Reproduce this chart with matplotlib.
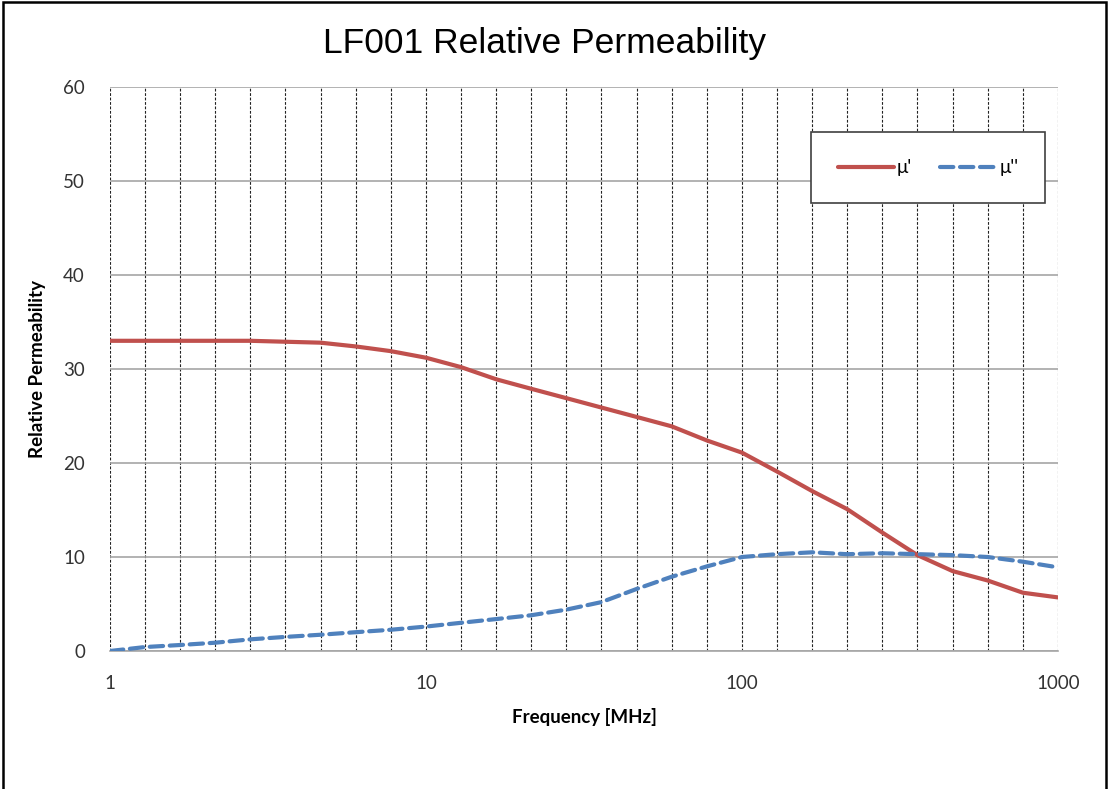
import matplotlib
matplotlib.use("Agg")
import matplotlib.pyplot as plt
from matplotlib.patches import Rectangle
from matplotlib.ticker import FixedLocator, NullFormatter

# frequencies of the data points / vertical grid (MHz)
freq = [1, 1.29, 1.67, 2.15, 2.78, 3.59, 4.64, 5.99, 7.74,
        10, 12.9, 16.7, 21.5, 27.8, 35.9, 46.4, 59.9, 77.4,
        100, 129, 167, 215, 278, 359, 464, 599, 774, 1000]

mu_real = [33.0, 33.0, 33.0, 33.0, 33.0, 32.9, 32.8, 32.4, 31.9,
           31.2, 30.2, 28.9, 27.9, 26.9, 25.9, 24.9, 23.9, 22.4,
           21.1, 19.1, 17.0, 15.1, 12.6, 10.2, 8.5, 7.5, 6.2, 5.7]

mu_imag = [0.0, 0.42, 0.64, 0.88, 1.24, 1.5, 1.73, 2.0, 2.26,
           2.6, 3.0, 3.4, 3.8, 4.4, 5.2, 6.6, 7.9, 9.0,
           10.0, 10.3, 10.5, 10.3, 10.4, 10.3, 10.2, 10.0, 9.5, 8.9]

x_ticks = [1, 10, 100, 1000]
x_ticklabels = ["1", "10", "100", "1000"]
y_ticks = [0, 10, 20, 30, 40, 50, 60]

red = "#C0504D"
blue = "#4F81BD"
tick_font = "Lato"

fig = plt.figure(figsize=(11.09, 7.89), dpi=100)
ax = fig.add_axes([110 / 1109, 1 - 651 / 789, 948 / 1109, 564 / 789])

# outer frame of the chart area (bottom edge runs off the image)
fig.patches.append(Rectangle((3 / 1109, -0.02), 1103 / 1109, 1.018,
                             transform=fig.transFigure, fill=False,
                             edgecolor="black", linewidth=1.8))

ax.plot(freq, mu_real, color=red, lw=3, solid_capstyle="round", label="\u03bc'", zorder=3)
ax.plot(freq, mu_imag, color=blue, lw=3, dashes=(3.2, 1.6), dash_capstyle="round",
        label="\u03bc''", zorder=3)

ax.set_xscale("log")
ax.set_xlim(1, 1000)
ax.set_ylim(0, 60)
ax.set_xticks(x_ticks)
ax.set_xticklabels(x_ticklabels)
ax.xaxis.set_minor_locator(FixedLocator(freq))
ax.xaxis.set_minor_formatter(NullFormatter())
ax.set_yticks(y_ticks)

ax.grid(axis="y", which="major", color="#A6A6A6", lw=1.2, zorder=1)
ax.grid(axis="x", which="both", color="#222222", lw=0.8, ls=(0, (2.5, 1.5)), zorder=1)

for s in ["left", "right", "top"]:
    ax.spines[s].set_visible(False)
ax.spines["bottom"].set_color("#A6A6A6")
ax.spines["bottom"].set_linewidth(1.2)

ax.tick_params(axis="both", which="both", length=0)
ax.tick_params(axis="x", pad=17, labelsize=13.5, labelcolor="#333333")
ax.tick_params(axis="y", pad=18, labelsize=13.5, labelcolor="#333333")
for lab in ax.get_xticklabels() + ax.get_yticklabels():
    lab.set_fontfamily(tick_font)

ax.set_xlabel("Frequency [MHz]", fontsize=13.5, fontweight="bold", family=tick_font, labelpad=12)
ax.set_ylabel("Relative Permeability", fontsize=13.5, fontweight="bold", family=tick_font, labelpad=12)

fig.text(545 / 1109, 1 - 43 / 789, "LF001 Relative Permeability", ha="center", va="center",
         fontsize=25.5, family="Liberation Sans")

leg = ax.legend(loc="center", bbox_to_anchor=(0.863, 0.857), ncol=2, frameon=True,
                fancybox=False, edgecolor="#404040", framealpha=1, handlelength=3.0,
                columnspacing=1.5, handletextpad=0.15, borderpad=1.45, borderaxespad=0,
                prop={"family": tick_font, "size": 13.5})
leg.get_frame().set_linewidth(1.2)

fig.savefig("out.png", dpi=100)
